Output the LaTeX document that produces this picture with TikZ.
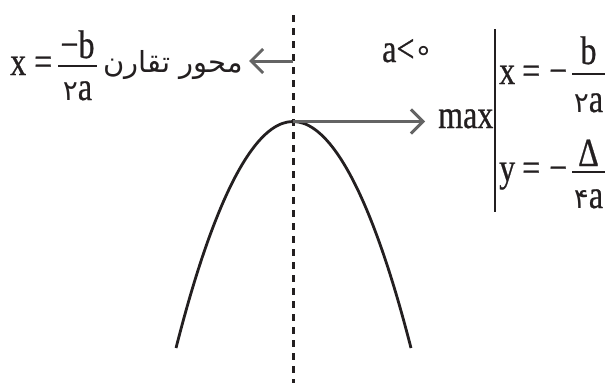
\documentclass[tikz,border=0pt]{standalone}
\usepackage{fontspec}
\setmainfont[FakeStretch=0.8,FakeBold=0.6]{Liberation Serif}
\newfontfamily\arabicfont[Script=Arabic]{DejaVu Sans}
\newfontfamily\symfont{DejaVu Sans}
\TeXXeTstate=1
\usetikzlibrary{arrows.meta}
\definecolor{ink}{RGB}{35,31,32}
\definecolor{arrgray}{RGB}{100,100,100}
\begin{document}
\begin{tikzpicture}[x=1pt,y=-1pt,
  txt/.style={inner sep=0pt,text=ink,font=\fontsize{40}{48}\selectfont},
  artxt/.style={inner sep=0pt,text=ink,font=\fontsize{29}{36}\selectfont\arabicfont},
  fracbar/.style={draw=ink,line width=2pt},
  grayarrow/.style={draw=arrgray,line width=3pt,-{Straight Barb[length=12pt,width=24pt,line width=3pt]}},
  axisline/.style={draw=ink,line width=3pt,dash pattern=on 7pt off 6pt},
  curve/.style={draw=ink,line width=2.8pt}]
\useasboundingbox (0,0) rectangle (611,383);
% axis of symmetry
\coordinate (axtop) at (293,15);
\coordinate (axbot) at (293,383);
\draw[axisline] (axtop) -- (axbot);
% parabola
\coordinate (pl) at (176,348);
\coordinate (vtx) at (293,121.5);
\coordinate (pr) at (411,348);
\draw[curve] (pl) parabola bend (vtx) (pr);
% left label
\node[txt,anchor=base west] (lx) at (10,75) {x};
\node[txt,anchor=base west] (leq) at (34,75) {=};
\coordinate (lbarA) at (58,66);
\coordinate (lbarB) at (97,66);
\draw[fracbar] (lbarA) -- (lbarB);
\node[txt,anchor=base] (lnum) at (77.5,58) {−b};
\node[txt,anchor=base] (lden) at (77.5,100) {{\arabicfont\fontsize{28}{34}\selectfont ۲}a};
\node[artxt,anchor=base east] (sym) at (243,72) {\beginR محور تقارن\endR};
\coordinate (axL) at (293,61);
\coordinate (symR) at (249,61);
\draw[grayarrow] (axL) -- (symR);
% a<0
\node[txt,anchor=base west] (cond) at (382,62) {a<{\symfont\fontsize{30}{36}\selectfont\raisebox{2pt}{∘}}};
% max
\node[txt,anchor=base west] (max) at (438,128) {max};
\coordinate (maxL) at (425,121.5);
\draw[grayarrow] (vtx) -- (maxL);
% brace bar
\coordinate (vbT) at (495,29);
\coordinate (vbB) at (495,212);
\draw[draw=ink,line width=2pt] (vbT) -- (vbB);
% x = -b/2a
\node[txt,anchor=base west] (rx) at (499,84) {x};
\node[txt,anchor=base west] (req) at (522,84) {=};
\node[txt,anchor=base west] (rm) at (549,84) {−};
\coordinate (rbarA) at (572,74);
\coordinate (rbarB) at (605,74);
\draw[fracbar] (rbarA) -- (rbarB);
\node[txt,anchor=base] (rnum) at (588.5,64) {b};
\node[txt,anchor=base] (rden) at (588.5,112) {{\arabicfont\fontsize{28}{34}\selectfont ۲}a};
% y = -Delta/4a
\node[txt,anchor=base west] (ry) at (499,181) {y};
\node[txt,anchor=base west] (req2) at (522,181) {=};
\node[txt,anchor=base west] (rm2) at (549,181) {−};
\coordinate (sbarA) at (572,172);
\coordinate (sbarB) at (605,172);
\draw[fracbar] (sbarA) -- (sbarB);
\node[txt,anchor=base] (snum) at (588.5,166) {Δ};
\node[txt,anchor=base] (sden) at (588.5,208) {{\arabicfont\fontsize{28}{34}\selectfont ۴}a};
\end{tikzpicture}
\end{document}
